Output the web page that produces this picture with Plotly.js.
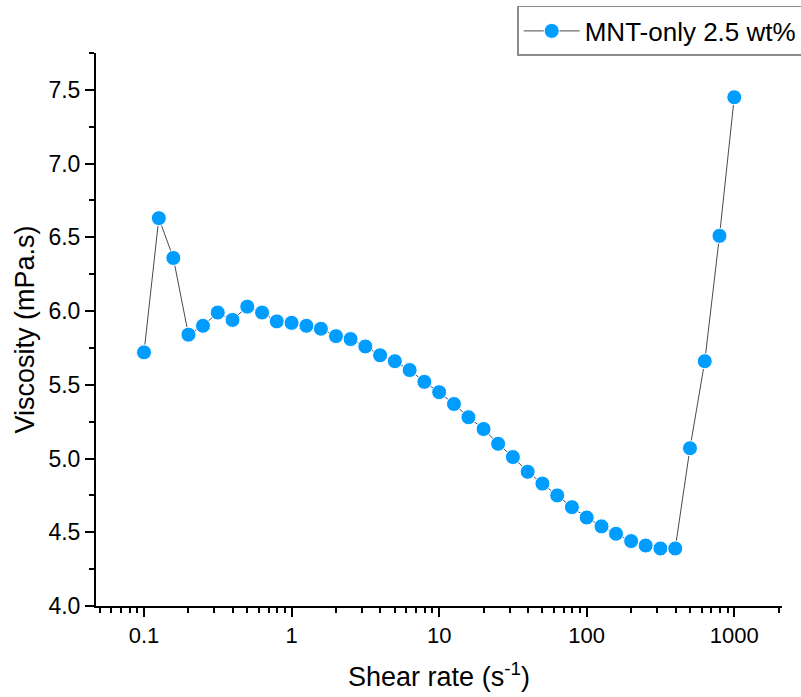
<!DOCTYPE html>
<html>
<head>
<meta charset="utf-8">
<script src="https://cdn.plot.ly/plotly-3.0.1.min.js"></script>
<style>
  html, body { margin: 0; padding: 0; background: #ffffff; }
  #chart { width: 801px; height: 697px; }
</style>
</head>
<body>
<div id="chart"></div>
<script>
// Shear rate sweep, 10 points per decade (s^-1)
const shearRate = [
  0.1, 0.126, 0.158, 0.2, 0.251, 0.316, 0.398, 0.501, 0.631, 0.794,
  1, 1.26, 1.58, 2, 2.51, 3.16, 3.98, 5.01, 6.31, 7.94,
  10, 12.6, 15.8, 20, 25.1, 31.6, 39.8, 50.1, 63.1, 79.4,
  100, 126, 158, 200, 251, 316, 398, 501, 631, 794,
  1000
];

// Viscosity (mPa.s)
const viscosity = [
  5.72, 6.63, 6.36, 5.84, 5.90, 5.99, 5.94, 6.03, 5.99, 5.93,
  5.92, 5.90, 5.88, 5.83, 5.81, 5.76, 5.70, 5.66, 5.60, 5.52,
  5.45, 5.37, 5.28, 5.20, 5.10, 5.01, 4.91, 4.83, 4.75, 4.67,
  4.60, 4.54, 4.49, 4.44, 4.41, 4.39, 4.39, 5.07, 5.66, 6.51,
  7.45
];

const seriesName = 'MNT-only 2.5 wt%';
const xTickVals = [0.1, 1, 10, 100, 1000];
const xTickText = ['0.1', '1', '10', '100', '1000'];

const FONT = 'Liberation Sans, Arial, sans-serif';

const trace = {
  x: shearRate,
  y: viscosity,
  type: 'scatter',
  mode: 'lines+markers',
  name: seriesName,
  line: { color: '#4a4a4a', width: 1 },
  marker: { color: '#009dff', size: 15, line: { color: '#ffffff', width: 1 } }
};

const layout = {
  width: 801,
  height: 697,
  margin: { l: 96, r: 19, t: 53, b: 90.5, autoexpand: false },
  paper_bgcolor: '#ffffff',
  plot_bgcolor: '#ffffff',
  font: { family: FONT, color: '#000000' },
  showlegend: true,
  legend: {
    x: 0.614, xanchor: 'left',
    y: 1.085, yanchor: 'top',
    bgcolor: '#ffffff',
    bordercolor: '#8c8c8c',
    borderwidth: 1.5,
    font: { family: FONT, size: 26, color: '#000000' },
    itemwidth: 56,
    tracegroupgap: 0
  },
  xaxis: {
    type: 'log',
    range: [-1.3254, 3.3234],
    tickmode: 'array',
    tickvals: xTickVals,
    ticktext: xTickText,
    ticks: 'outside',
    ticklen: 9,
    tickwidth: 2,
    tickcolor: '#000000',
    minor: { ticks: 'outside', ticklen: 5, tickwidth: 2, tickcolor: '#000000', dtick: 'D1', showgrid: false },
    showline: true,
    linecolor: '#000000',
    linewidth: 2,
    mirror: false,
    showgrid: false,
    zeroline: false,
    automargin: false,
    tickfont: { family: FONT, size: 22, color: '#000000' },
    title: { text: 'Shear rate (s<sup>-1</sup>)', font: { family: FONT, size: 27, color: '#000000' }, standoff: 20 }
  },
  yaxis: {
    range: [4, 7.75],
    tick0: 4,
    dtick: 0.5,
    tickformat: '.1f',
    ticks: 'outside',
    ticklen: 9,
    tickwidth: 2,
    tickcolor: '#000000',
    minor: { ticks: 'outside', ticklen: 5, tickwidth: 2, tickcolor: '#000000', dtick: 0.25, tick0: 4, showgrid: false },
    showline: true,
    linecolor: '#000000',
    linewidth: 2,
    mirror: false,
    showgrid: false,
    zeroline: false,
    automargin: false,
    tickfont: { family: FONT, size: 23, color: '#000000' },
    title: { text: 'Viscosity (mPa.s)', font: { family: FONT, size: 27, color: '#000000' }, standoff: 6 }
  }
};

Plotly.newPlot('chart', [trace], layout, { displayModeBar: false, staticPlot: true });
</script>
</body>
</html>
